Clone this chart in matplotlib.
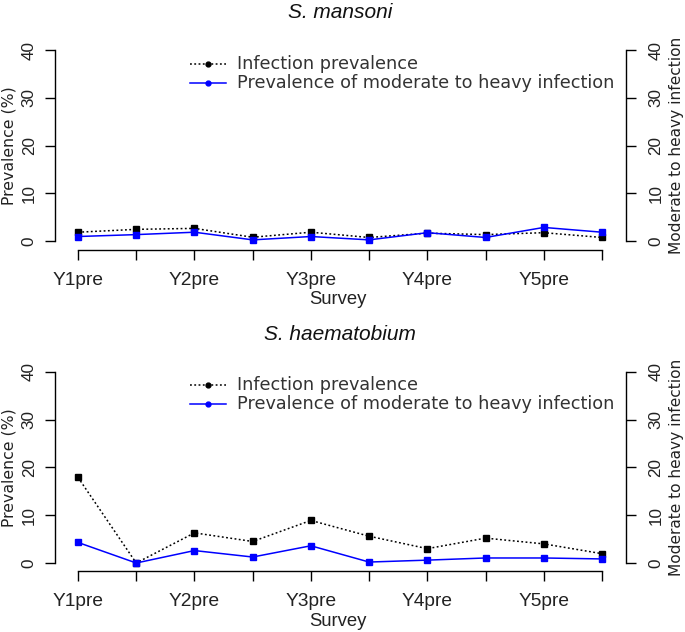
import matplotlib
matplotlib.use("Agg")
import matplotlib.pyplot as plt
import numpy as np

# ---- data ----
surveys = ["Y1pre", "", "Y2pre", "", "Y3pre", "", "Y4pre", "", "Y5pre", ""]
mansoni_prev = [1.9, 2.5, 2.7, 0.85, 1.9, 0.8, 1.7, 1.4, 1.8, 0.8]
mansoni_mod = [1.0, 1.4, 1.9, 0.3, 1.0, 0.3, 1.8, 0.8, 2.9, 1.9]
haem_prev = [17.9, 0.0, 6.3, 4.5, 8.9, 5.6, 3.0, 5.2, 4.0, 1.95]
haem_mod = [4.3, 0.0, 2.6, 1.25, 3.6, 0.2, 0.6, 1.05, 1.05, 0.85]
titles = ["S. mansoni", "S. haematobium"]
yticks = [0, 10, 20, 30, 40]

W, H = 685, 632
fig = plt.figure(figsize=(W / 100, H / 100), dpi=100)

TICKFONT = "Liberation Sans"
LABFONT = "DejaVu Sans"
XFS = 13.8
YFS = 12.3

def fx(x):
    return x / W

def fy(y):
    return 1 - y / H

x = np.arange(len(surveys))
left_px, right_px = 55, 626
x0_px, x9_px = 78, 602
ppx = (x9_px - x0_px) / 9
xlim = (-(x0_px - left_px) / ppx, 9 + (right_px - x9_px) / ppx)

panels = [
    dict(zero=241.3, forty=50.0, axis=250.0, title_y=12, xl_y=300,
         leg_y=(64, 83), prev=mansoni_prev, mod=mansoni_mod, title=titles[0]),
    dict(zero=563.0, forty=371.7, axis=571.0, title_y=334, xl_y=622,
         leg_y=(385, 404), prev=haem_prev, mod=haem_mod, title=titles[1]),
]

for p in panels:
    ppu = (p["zero"] - p["forty"]) / 40
    top_px = p["forty"] - 8
    bot_px = p["axis"]
    ax = fig.add_axes([fx(left_px), fy(bot_px), (right_px - left_px) / W,
                       (bot_px - top_px) / H])
    ylim = (-(bot_px - p["zero"]) / ppu, 40 + (p["forty"] - top_px) / ppu)
    ax.set_xlim(*xlim)
    ax.set_ylim(*ylim)
    ax.plot(x, p["prev"], color="black", linestyle=(0, (1.2, 1.6)), linewidth=1.1,
            marker="s", markersize=5, markerfacecolor="black", markeredgecolor="black")
    ax2 = ax.twinx()
    ax2.set_ylim(*ylim)
    ax2.plot(x, p["mod"], color="blue", linestyle="-", linewidth=1.1,
             marker="s", markersize=5, markerfacecolor="blue", markeredgecolor="blue")

    for a in (ax, ax2):
        a.spines["top"].set_visible(False)
        a.patch.set_visible(False)
    ax.spines["right"].set_visible(False)
    ax2.spines["left"].set_visible(False)
    ax2.spines["bottom"].set_visible(False)
    ax.spines["left"].set_bounds(0, 40)
    ax2.spines["right"].set_bounds(0, 40)
    ax.spines["bottom"].set_bounds(0, 9)
    for s in ["left", "bottom"]:
        ax.spines[s].set_linewidth(1.0)
    ax2.spines["right"].set_linewidth(1.0)

    ax.set_xticks(x)
    ax.set_xticklabels(surveys, fontfamily=TICKFONT, fontsize=XFS, color="#222222")
    ax.tick_params(axis="x", length=7.2, width=1.0, pad=8.5)
    ax.set_yticks(yticks)
    ax.set_yticklabels([str(v) for v in yticks], fontfamily=TICKFONT, fontsize=YFS,
                       rotation=90, va="center", color="#222222")
    ax.tick_params(axis="y", length=7.2, width=1.0, pad=6)
    ax2.set_yticks(yticks)
    ax2.set_yticklabels([str(v) for v in yticks], fontfamily=TICKFONT, fontsize=YFS,
                        rotation=90, va="center", color="#222222")
    ax2.tick_params(axis="y", length=7.2, width=1.0, pad=9)

    mid_y = (p["zero"] + p["forty"]) / 2
    fig.text(fx(9), fy(mid_y), "Prevalence (%)", rotation=90, ha="center",
             va="center", fontfamily=LABFONT, fontsize=11.3, color="#222222")
    fig.text(fx(676), fy(mid_y), "Moderate to heavy infection", rotation=90,
             ha="center", va="center", fontfamily=LABFONT, fontsize=11.1, color="#222222")
    fig.text(fx(338), fy(p["xl_y"]), "Survey", ha="center", va="center",
             fontfamily=TICKFONT, fontsize=13.3, color="#222222")
    fig.text(fx(340), fy(p["title_y"]), p["title"], ha="center", va="center",
             fontfamily=TICKFONT, fontsize=15, style="italic", color="#111111")

    for ly, (col, ls, lab) in zip(p["leg_y"], [("black", (0, (1.2, 1.6)), "Infection prevalence"),
                                                ("blue", "-", "Prevalence of moderate to heavy infection")]):
        fig.add_artist(plt.Line2D([fx(190), fx(226)], [fy(ly), fy(ly)], color=col,
                                  linestyle=ls, linewidth=1.1, transform=fig.transFigure))
        fig.add_artist(plt.Line2D([fx(208)], [fy(ly)], color=col, marker="o",
                                  markersize=3.5, transform=fig.transFigure))
        fig.text(fx(237), fy(ly), lab, ha="left", va="center", fontfamily=LABFONT,
                 fontsize=12.7, color="#333333")

fig.savefig("out.png", dpi=100)
